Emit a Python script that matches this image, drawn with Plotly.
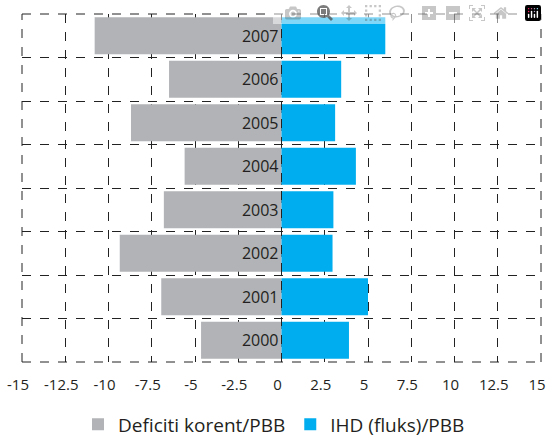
import plotly.graph_objects as go

years = ["2000", "2001", "2002", "2003", "2004", "2005", "2006", "2007"]
deficit = [-4.65, -6.95, -9.35, -6.8, -5.6, -8.7, -6.5, -10.8]
ihd = [3.9, 5.0, 2.95, 3.0, 4.3, 3.1, 3.45, 6.0]
tick_vals = [-15, -12.5, -10, -7.5, -5, -2.5, 0, 2.5, 5, 7.5, 10, 12.5, 15]
tick_text = ["-15", "-12.5", "-10", "-7.5", "-5", "-2.5", "0", "2.5", "5", "7.5", "10", "12.5", "15"]

FONT = "Open Sans"
TXT = "#231f20"

fig = go.Figure()
fig.add_trace(go.Bar(
    y=years, x=deficit, orientation="h", name="Deficiti korent/PBB",
    marker=dict(color="#b1b3b6", line=dict(width=0)),
    text=years, textposition="inside", insidetextanchor="start",
    textfont=dict(family=FONT, size=16, color=TXT), textangle=0,
    hoverinfo="x+y",
))
fig.add_trace(go.Bar(
    y=years, x=ihd, orientation="h", name="IHD (fluks)/PBB",
    marker=dict(color="#00aeef", line=dict(width=0)),
    hoverinfo="x+y",
))

fig.update_layout(
    width=547, height=437,
    margin=dict(l=22, r=6, t=14, b=75, autoexpand=False),
    barmode="relative", bargap=0.15,
    plot_bgcolor="white", paper_bgcolor="white",
    font=dict(family=FONT, color=TXT, size=14),
    uniformtext=dict(minsize=8, mode="show"),
    legend=dict(orientation="h", xref="container", yref="container",
                x=0.1426, xanchor="left", y=0.029, yanchor="middle",
                font=dict(size=19, family=FONT, color=TXT), itemwidth=30,
                traceorder="normal"),
    showlegend=True,
)
fig.update_xaxes(
    range=[-15, 15], tickvals=tick_vals, ticktext=tick_text,
    showgrid=True, gridcolor="#222", griddash="dash", gridwidth=1,
    zeroline=False, showline=False, ticks="", ticklabelstandoff=12,
    ticklabelshift=-4, ticklabeloverflow="allow",
    tickfont=dict(size=15, family=FONT, color=TXT),
)
fig.update_yaxes(
    type="category", tickson="boundaries", showticklabels=False,
    showgrid=True, gridcolor="#222", griddash="dash", gridwidth=1,
    zeroline=False, showline=False, ticks="",
)
# dashed frame and zero line above bars
for x0, x1, y0, y1 in [(0, 1, 0, 0), (0, 1, 1, 1), (0, 0, 0, 1), (1, 1, 0, 1)]:
    fig.add_shape(type="line", xref="paper", yref="paper", x0=x0, x1=x1, y0=y0, y1=y1,
                  line=dict(color="#222", width=1, dash="dash"), layer="above")
fig.add_shape(type="line", xref="x", yref="paper", x0=0, x1=0, y0=0, y1=1,
              line=dict(color="#222", width=1, dash="dash"), layer="above")

# remove the default page margin so the 547x437 figure fills the window exactly
fig.write_html(
    "out.html",
    post_script="document.body.style.margin='0';document.documentElement.style.overflow='hidden';",
)
